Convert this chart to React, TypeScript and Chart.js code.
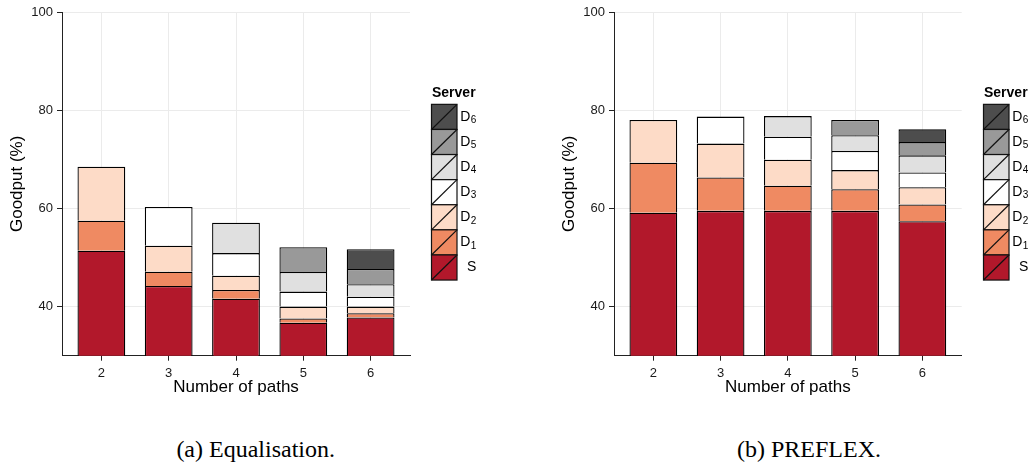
import React, { useEffect, useRef } from 'react';
import { Chart, registerables } from 'chart.js';

Chart.register(...registerables);

const FAMILY = "'Liberation Sans', Arial, Helvetica, sans-serif";

const paths = [2, 3, 4, 5, 6];
const yTicks = [40, 60, 80, 100];
const seriesNames = ['S', 'D1', 'D2', 'D3', 'D4', 'D5', 'D6'];
const seriesColors = ['#B2182B', '#EF8A62', '#FDDBC7', '#FFFFFF', '#E0E0E0', '#999999', '#4D4D4D'];

// (a) Equalisation — goodput share per server (%), stacked
const eqS = [51.4, 44.2, 41.6, 36.7, 37.8];
const eqD1 = [6.1, 2.9, 1.8, 0.9, 0.85];
const eqD2 = [11.0, 5.3, 2.9, 2.4, 1.35];
const eqD3 = [null, 7.9, 4.6, 3.05, 2.0];
const eqD4 = [null, null, 6.2, 4.0, 2.55];
const eqD5 = [null, null, null, 5.05, 3.1];
const eqD6 = [null, null, null, null, 4.05];

// (b) PREFLEX
const pfS = [59.1, 59.5, 59.5, 59.5, 57.4];
const pfD1 = [10.2, 6.8, 5.1, 4.4, 3.4];
const pfD2 = [8.7, 6.9, 5.3, 3.9, 3.5];
const pfD3 = [null, 5.5, 4.7, 3.9, 3.0];
const pfD4 = [null, null, 4.2, 3.2, 3.5];
const pfD5 = [null, null, null, 3.1, 2.7];
const pfD6 = [null, null, null, null, 2.6];

const eqSeries = [eqS, eqD1, eqD2, eqD3, eqD4, eqD5, eqD6];
const pfSeries = [pfS, pfD1, pfD2, pfD3, pfD4, pfD5, pfD6];

const legendPlugin = {
  id: 'serverLegend',
  afterDraw(chart: any) {
    const { ctx, chartArea } = chart;
    const x0 = Math.round(chartArea.right + 21) + 0.5;
    const boxW = 25.5;
    const boxH = 25.1;
    const cy = (chartArea.top + chartArea.bottom) / 2;
    const boxesTop = cy - 79.5;
    ctx.save();
    ctx.fillStyle = '#000';
    ctx.textBaseline = 'middle';
    ctx.textAlign = 'left';
    ctx.font = `bold 14px ${FAMILY}`;
    ctx.fillText('Server', x0 + 0.5, boxesTop - 11);
    const items = chart.data.datasets.slice().reverse();
    items.forEach((ds: any, i: number) => {
      const y = boxesTop + i * boxH;
      ctx.fillStyle = ds.backgroundColor;
      ctx.fillRect(x0, y, boxW, boxH);
      ctx.strokeStyle = '#111';
      ctx.lineWidth = 1.2;
      ctx.strokeRect(x0, y, boxW, boxH);
      ctx.beginPath();
      ctx.moveTo(x0, y + boxH);
      ctx.lineTo(x0 + boxW, y);
      ctx.stroke();
      const label: string = ds.label;
      const ly = y + boxH / 2;
      ctx.fillStyle = '#000';
      if (label.length > 1) {
        ctx.font = `14px ${FAMILY}`;
        const lx = x0 + boxW + 3.3;
        ctx.fillText(label[0], lx, ly);
        const w = ctx.measureText(label[0]).width;
        ctx.font = `10px ${FAMILY}`;
        ctx.fillText(label.slice(1), lx + w + 0.3, ly + 3.5);
      } else {
        ctx.font = `14px ${FAMILY}`;
        ctx.fillText(label, x0 + boxW + 10, ly);
      }
    });
    ctx.restore();
  },
};

function StackChart({ series, padLeft, padRight }: { series: (number | null)[][]; padLeft: number; padRight: number }) {
  const ref = useRef<HTMLCanvasElement>(null);
  useEffect(() => {
    if (!ref.current) return;
    const datasets = seriesNames.map((name, k) => ({
      label: name,
      data: paths.map((p, i) => ({ x: p, y: series[k][i] })),
      backgroundColor: seriesColors[k],
      borderColor: '#000',
      borderWidth: 1.3,
      stack: 'g',
      barPercentage: 0.71,
      categoryPercentage: 1,
    }));
    const chart = new Chart(ref.current, {
      type: 'bar',
      data: { datasets } as any,
      plugins: [legendPlugin],
      options: {
        responsive: false,
        animation: false,
        layout: { padding: { left: padLeft, right: padRight, top: 12, bottom: 0 } },
        plugins: { legend: { display: false }, tooltip: { enabled: false } },
        scales: {
          x: {
            type: 'linear',
            min: 1.415,
            max: 6.585,
            offset: false,
            afterBuildTicks: (s: any) => {
              s.ticks = paths.map((v) => ({ value: v }));
            },
            afterFit: (s: any) => {
              s.height = 44.3;
            },
            grid: { offset: false, color: '#EBEBEB', lineWidth: 1, tickColor: '#222', tickLength: 5 },
            border: { color: '#222', width: 1 },
            ticks: {
              font: { family: FAMILY, size: 13 },
              color: '#1a1a1a',
              padding: 5,
              maxRotation: 0,
              autoSkip: false,
              callback: (v: any) => String(v),
            },
            title: {
              display: true,
              text: 'Number of paths',
              font: { family: FAMILY, size: 17 },
              color: '#000',
              padding: { top: 0, bottom: 2 },
            },
          },
          y: {
            type: 'linear',
            min: 30,
            max: 100,
            stacked: true,
            afterBuildTicks: (s: any) => {
              s.ticks = yTicks.map((v) => ({ value: v }));
            },
            afterFit: (s: any) => {
              s.width = 62;
            },
            grid: { color: '#EBEBEB', lineWidth: 1, tickColor: '#222', tickLength: 5 },
            border: { color: '#222', width: 1 },
            ticks: {
              font: { family: FAMILY, size: 13 },
              color: '#1a1a1a',
              padding: 4,
              callback: (v: any) => String(v),
            },
            title: {
              display: true,
              text: 'Goodput (%)',
              font: { family: FAMILY, size: 17 },
              color: '#000',
              padding: { top: 7, bottom: 0 },
            },
          },
        },
      } as any,
    });
    return () => chart.destroy();
  }, []);
  return <canvas ref={ref} width={515} height={400} style={{ display: 'block', width: 515, height: 400 }} />;
}

export default function App() {
  const captionStyle: React.CSSProperties = {
    position: 'absolute',
    top: 437,
    height: 24,
    lineHeight: '24px',
    width: 300,
    textAlign: 'center',
    fontFamily: "'Liberation Serif', 'Times New Roman', serif",
    fontSize: 24,
    color: '#000',
    whiteSpace: 'nowrap',
  };
  return (
    <div style={{ position: 'absolute', left: 0, top: 0, width: 1030, height: 466, background: '#fff', overflow: 'hidden' }}>
      <div style={{ position: 'absolute', left: 0, top: 0 }}>
        <StackChart series={eqSeries} padLeft={0} padRight={105} />
      </div>
      <div style={{ position: 'absolute', left: 515, top: 0 }}>
        <StackChart series={pfSeries} padLeft={37} padRight={68.3} />
      </div>
      <div style={{ ...captionStyle, left: 255.7 - 150 }}>(a) Equalisation.</div>
      <div style={{ ...captionStyle, left: 809 - 150 }}>(b) PREFLEX.</div>
    </div>
  );
}
